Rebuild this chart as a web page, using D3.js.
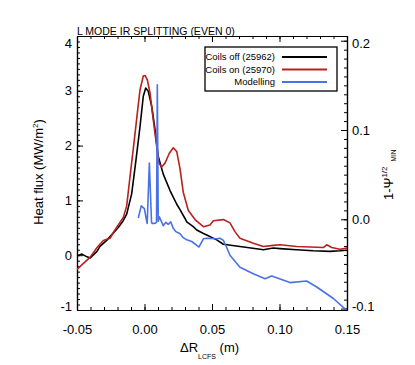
<!DOCTYPE html>
<html>
<head>
<meta charset="utf-8">
<script src="https://cdn.jsdelivr.net/npm/d3@7"></script>
<style>
  body { margin: 0; background: #fff; }
  svg { display: block; }
  text { font-family: "Liberation Sans", Arial, Helvetica, sans-serif; fill: #000; }
</style>
</head>
<body>
<svg id="chart" width="415" height="365"></svg>
<script>
// values, [dR (m), heat flux (MW/m2)]
var coilsOff = [
  [-0.05, -0.01], [-0.0463, 0.02], [-0.0426, -0.03], [-0.0402, -0.05], [-0.0352, 0.07],
  [-0.033, 0.16], [-0.028, 0.27], [-0.024, 0.38], [-0.0196, 0.5], [-0.016, 0.62],
  [-0.0132, 0.75], [-0.0095, 1.12], [-0.0063, 1.74], [-0.0033, 2.35], [-0.0009, 2.9],
  [0.0009, 3.05], [0.0028, 2.99], [0.0053, 2.72], [0.0078, 2.29], [0.0102, 1.8],
  [0.0139, 1.48], [0.0189, 1.18], [0.0239, 0.93], [0.0263, 0.83], [0.03, 0.67],
  [0.0313, 0.61], [0.0361, 0.52], [0.0387, 0.46], [0.0433, 0.4], [0.0461, 0.37],
  [0.0535, 0.28], [0.0584, 0.2], [0.0707, 0.16], [0.0856, 0.11], [0.088, 0.1],
  [0.0954, 0.13], [0.1004, 0.12], [0.1127, 0.1], [0.125, 0.08], [0.1374, 0.07],
  [0.1448, 0.08], [0.15, 0.09]
];

var coilsOn = [
  [-0.05, -0.26], [-0.0404, -0.04], [-0.0354, 0.13], [-0.033, 0.2], [-0.0305, 0.27],
  [-0.028, 0.29], [-0.0256, 0.31], [-0.0219, 0.46], [-0.0157, 0.69], [-0.0132, 0.9],
  [-0.0107, 1.44], [-0.0078, 2.05], [-0.005, 2.66], [-0.0033, 3.02], [-0.0009, 3.27],
  [0.0004, 3.28], [0.0021, 3.2], [0.0041, 2.96], [0.0065, 2.47], [0.009, 1.99],
  [0.0107, 1.68], [0.0127, 1.61], [0.0152, 1.68], [0.0184, 1.86], [0.0213, 1.96],
  [0.0239, 1.89], [0.0263, 1.58], [0.0287, 1.15], [0.0324, 0.82], [0.0374, 0.65],
  [0.0436, 0.52], [0.0485, 0.55], [0.051, 0.63], [0.0584, 0.65], [0.0633, 0.59],
  [0.067, 0.43], [0.0707, 0.31], [0.0806, 0.22], [0.088, 0.16], [0.0954, 0.18],
  [0.1004, 0.19], [0.1127, 0.16], [0.1324, 0.14], [0.135, 0.19], [0.1387, 0.14],
  [0.1448, 0.11], [0.15, 0.13]
];

var modelling = [
  [-0.0046, 0.68], [-0.0024, 0.9], [-0.0001, 0.85], [0.0016, 0.62], [0.002, 0.58],
  [0.0036, 1.68], [0.0052, 0.6], [0.0056, 0.58], [0.0078, 0.58], [0.0089, 0.6],
  [0.0095, 3.11], [0.0102, 0.62], [0.011, 0.7], [0.0139, 0.54], [0.0159, 0.6],
  [0.0176, 0.56], [0.0194, 0.61], [0.0213, 0.49], [0.0233, 0.43], [0.0263, 0.39],
  [0.0287, 0.32], [0.0313, 0.28], [0.035, 0.25], [0.0387, 0.18], [0.0404, 0.15],
  [0.0436, 0.3], [0.0461, 0.31], [0.0535, 0.3], [0.0559, 0.31], [0.0584, 0.27],
  [0.0609, 0.14], [0.0633, 0.0], [0.0707, -0.22], [0.0806, -0.34], [0.0893, -0.43],
  [0.0942, -0.38], [0.0979, -0.41], [0.1078, -0.5], [0.1201, -0.47], [0.1276, -0.58],
  [0.1399, -0.79], [0.1485, -0.98], [0.15, -1.01]
];

var seriesNames = ['Coils off (25962)', 'Coils on (25970)', 'Modelling'];
var seriesColors = ['#000000', '#b8211f', '#4a72e4'];

var xTicks = [-0.05, 0.0, 0.05, 0.10, 0.15];
var yTicks = [-1, 0, 1, 2, 3, 4];
var y2Ticks = [-0.1, 0.0, 0.1, 0.2];

var title = 'L MODE IR SPLITTING (EVEN 0)';

// plot box (note: "top" is taken by window.top, so prefix these)
var boxLeft = 77, boxRight = 347, boxTop = 36, boxBottom = 310;

var svg = d3.select('#chart');

var x = d3.scaleLinear().domain([-0.05, 0.15]).range([boxLeft, boxRight]);
var y = d3.scaleLinear().domain([-1, 4]).range([boxBottom, boxTop]);
// right hand axis (1 - psi^1/2 min), not lined up with the left one
var y2 = d3.scaleLinear().domain([-0.1016, 0.2053]).range([boxBottom, boxTop]);

svg.append('clipPath').attr('id', 'plotClip')
  .append('rect')
  .attr('x', boxLeft).attr('y', boxTop)
  .attr('width', boxRight - boxLeft).attr('height', boxBottom - boxTop);

// minor ticks first, majors drawn over them
var xMinor = d3.range(-0.05, 0.1501, 0.01);
var yMinor = d3.range(-1, 4.001, 0.1);
var y2Minor = d3.range(-0.1, 0.2001, 0.01);

function addAxis(gen, tx, ty) {
  var g = svg.append('g')
    .attr('transform', 'translate(' + tx + ',' + ty + ')')
    .call(gen);
  g.selectAll('path.domain').attr('stroke', '#000').attr('stroke-width', 1.2);
  g.selectAll('.tick line').attr('stroke', '#000').attr('stroke-width', 1);
  g.selectAll('.tick text').attr('font-size', 13).attr('font-family', null).attr('fill', '#000');
  return g;
}

addAxis(d3.axisBottom(x).tickValues(xMinor).tickSize(-3).tickSizeOuter(0).tickFormat(''), 0, boxBottom);
addAxis(d3.axisTop(x).tickValues(xMinor).tickSize(-3).tickSizeOuter(0).tickFormat(''), 0, boxTop);
addAxis(d3.axisLeft(y).tickValues(yMinor).tickSize(-3).tickSizeOuter(0).tickFormat(''), boxLeft, 0);
addAxis(d3.axisRight(y2).tickValues(y2Minor).tickSize(-3).tickSizeOuter(0).tickFormat(''), boxRight, 0);

addAxis(d3.axisBottom(x).tickValues(xTicks).tickSize(-6).tickSizeOuter(0).tickPadding(15)
  .tickFormat(function(d) { return d.toFixed(2); }), 0, boxBottom);
addAxis(d3.axisTop(x).tickValues(xTicks).tickSize(-6).tickSizeOuter(0).tickFormat(''), 0, boxTop);

var yAxisG = addAxis(d3.axisLeft(y).tickValues(yTicks).tickSize(-6).tickSizeOuter(0).tickPadding(5)
  .tickFormat(function(d) { return String(d); }), boxLeft, 0);
var y2AxisG = addAxis(d3.axisRight(y2).tickValues(y2Ticks).tickSize(-6).tickSizeOuter(0).tickPadding(5)
  .tickFormat(function(d) { return d.toFixed(1); }), boxRight, 0);

// end labels sit just inside the box, like the original
function pullIn(scale) {
  return function(d) {
    var p = scale(d);
    var c = Math.max(43, Math.min(306, p));
    return c - p;
  };
}
yAxisG.selectAll('.tick text').attr('y', pullIn(y));
y2AxisG.selectAll('.tick text').attr('y', pullIn(y2));

// curves
var line = d3.line()
  .x(function(d) { return x(d[0]); })
  .y(function(d) { return y(d[1]); });

var curves = [coilsOff, coilsOn, modelling];
svg.append('g').attr('clip-path', 'url(#plotClip)')
  .selectAll('path')
  .data(curves)
  .enter().append('path')
  .attr('d', line)
  .attr('fill', 'none')
  .attr('stroke', function(d, i) { return seriesColors[i]; })
  .attr('stroke-width', 1.6)
  .attr('stroke-linejoin', 'round');

// legend
var legend = svg.append('g');
legend.append('rect')
  .attr('x', 205).attr('y', 47).attr('width', 132).attr('height', 44)
  .attr('fill', '#fff').attr('stroke', '#000').attr('stroke-width', 1.3);

var rows = legend.selectAll('g.row')
  .data(seriesNames)
  .enter().append('g')
  .attr('class', 'row')
  .attr('transform', function(d, i) { return 'translate(0,' + (57 + i * 12.5) + ')'; });
rows.append('text')
  .attr('x', 275).attr('dy', '0.35em')
  .attr('text-anchor', 'end').attr('font-size', 9.5)
  .text(function(d) { return d; });
rows.append('line')
  .attr('x1', 282).attr('x2', 327)
  .attr('stroke', function(d, i) { return seriesColors[i]; })
  .attr('stroke-width', 1.8);

// title
svg.append('text')
  .attr('x', boxLeft).attr('y', 34.5)
  .attr('font-size', 10.5)
  .text(title);

// x title: delta R_LCFS (m)
var xt = svg.append('text').attr('x', 180).attr('y', 352).attr('font-size', 13);
xt.append('tspan').text('\u0394R');
xt.append('tspan').attr('font-size', 7).attr('dy', 7).text('LCFS');
xt.append('tspan').attr('dy', -7).text(' (m)');

// left title
var yt = svg.append('text')
  .attr('transform', 'translate(43,172) rotate(-90)')
  .attr('text-anchor', 'middle').attr('font-size', 13);
yt.append('tspan').text('Heat flux (MW/m');
yt.append('tspan').attr('font-size', 8).attr('dy', -5).text('2');
yt.append('tspan').attr('dy', 5).text(')');

// right title: 1 - psi^1/2 _MIN
var y2t = svg.append('text')
  .attr('transform', 'translate(393,200) rotate(-90)')
  .attr('font-size', 13);
y2t.append('tspan').text('1-\u03A8');
y2t.append('tspan').attr('font-size', 8).attr('dy', -6).text('1/2');
y2t.append('tspan').attr('font-size', 6.5).attr('dx', 5).attr('dy', 9).text('MIN');
</script>
</body>
</html>
